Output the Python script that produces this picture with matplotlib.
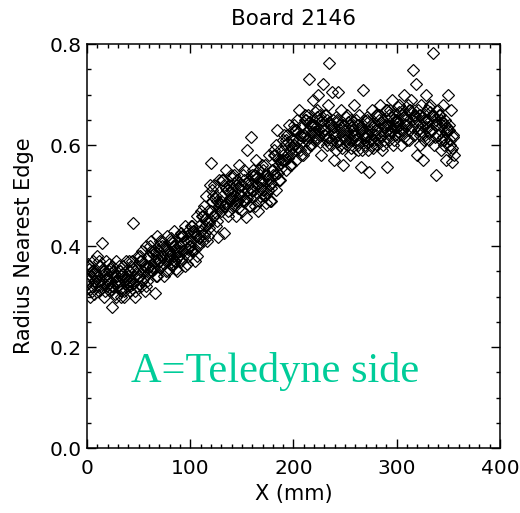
import matplotlib
matplotlib.use("Agg")
import matplotlib.pyplot as plt
from matplotlib.ticker import MultipleLocator

# Board 2146 scan: position along board (mm) vs radius to nearest edge
# values, one row per 10 mm bin
x_mm = [
	0.5, 1.5, 2.8, 3.6, 4.9, 5.5, 6.7, 7.4, 8.6, 9.8,
	10.4, 11.2, 12.6, 13.1, 14.5, 15.3, 16.2, 17.5, 18.4, 19.6,
	20.3, 21.5, 22.4, 23.8, 24.2, 25.6, 26.3, 27.7, 28.5, 29.4,
	30.2, 31.6, 32.5, 33.4, 34.8, 35.5, 36.9, 37.3, 38.6, 39.5,
	40.4, 41.3, 42.7, 43.5, 44.6, 45.2, 46.8, 47.4, 48.3, 49.6,
	50.5, 51.4, 52.3, 53.7, 54.2, 55.8, 56.5, 57.3, 58.6, 59.4,
	60.3, 61.7, 62.4, 63.5, 64.6, 65.9, 66.3, 67.5, 68.2, 69.7,
	70.2, 71.5, 72.8, 73.4, 74.6, 75.3, 76.7, 77.4, 78.5, 79.6,
	80.4, 81.6, 82.3, 83.5, 84.7, 85.2, 86.6, 87.4, 88.8, 89.5,
	90.3, 91.5, 92.6, 93.2, 94.7, 95.4, 96.5, 97.6, 98.3, 99.5,
	100.4, 101.5, 102.7, 103.3, 104.6, 105.5, 106.8, 107.3, 108.5, 109.6,
	110.2, 111.6, 112.4, 113.7, 114.3, 115.5, 116.8, 117.4, 118.6, 119.3,
	120.5, 121.3, 122.6, 123.4, 124.7, 125.2, 126.5, 127.8, 128.3, 129.6,
	130.3, 131.5, 132.4, 133.6, 134.2, 135.7, 136.4, 137.5, 138.6, 139.3,
	140.4, 141.6, 142.3, 143.5, 144.7, 145.4, 146.6, 147.3, 148.5, 149.7,
	150.2, 151.5, 152.4, 153.6, 154.8, 155.3, 156.5, 157.7, 158.4, 159.5,
	160.3, 161.6, 162.5, 163.4, 164.7, 165.5, 166.3, 167.6, 168.4, 169.7,
	170.4, 171.3, 172.6, 173.5, 174.2, 175.7, 176.4, 177.5, 178.6, 179.4,
	180.2, 181.5, 182.7, 183.4, 184.5, 185.3, 186.6, 187.4, 188.7, 189.5,
	190.3, 191.4, 192.6, 193.5, 194.2, 195.6, 196.3, 197.5, 198.4, 199.6,
	200.5, 201.3, 202.6, 203.4, 204.7, 205.5, 206.2, 207.6, 208.3, 209.5,
	210.4, 211.6, 212.3, 213.7, 214.2, 215.5, 216.6, 217.3, 218.5, 219.4,
	220.3, 221.5, 222.4, 223.6, 224.3, 225.7, 226.5, 227.4, 228.6, 229.5,
	230.2, 231.4, 232.6, 233.5, 234.7, 235.3, 236.6, 237.4, 238.5, 239.6,
	240.3, 241.6, 242.5, 243.4, 244.7, 245.5, 246.3, 247.6, 248.4, 249.5,
	250.4, 251.5, 252.3, 253.6, 254.4, 255.7, 256.5, 257.3, 258.6, 259.4,
	260.3, 261.6, 262.4, 263.5, 264.7, 265.3, 266.6, 267.4, 268.5, 269.7,
	270.2, 271.5, 272.6, 273.4, 274.5, 275.6, 276.3, 277.5, 278.4, 279.6,
	280.4, 281.3, 282.6, 283.5, 284.2, 285.7, 286.4, 287.6, 288.5, 289.3,
	290.5, 291.3, 292.6, 293.4, 294.7, 295.5, 296.3, 297.6, 298.4, 299.5,
	300.3, 301.5, 302.6, 303.4, 304.5, 305.7, 306.4, 307.3, 308.6, 309.5,
	310.4, 311.6, 312.3, 313.5, 314.6, 315.4, 316.3, 317.5, 318.7, 319.5,
	320.3, 321.5, 322.4, 323.6, 324.5, 325.3, 326.7, 327.4, 328.5, 329.6,
	330.5, 331.3, 332.6, 333.4, 334.7, 335.5, 336.4, 337.6, 338.5, 339.7,
	340.3, 341.6, 342.4, 343.5, 344.7, 345.3, 346.6, 347.4, 348.5, 349.6,
	350.4, 351.5, 352.3, 353.6, 354.5, 355.2,
]
radius = [
	.33, .36, .30, .34, .31, .37, .33, .35, .32, .38,
	.34, .31, .36, .33, .405, .35, .30, .34, .37, .32,
	.33, .35, .31, .28, .36, .32, .34, .30, .37, .33,
	.32, .35, .30, .34, .36, .31, .33, .37, .32, .34,
	.35, .31, .33, .37, .445, .34, .30, .36, .32, .38,
	.34, .37, .32, .39, .35, .31, .36, .40, .33, .38,
	.38, .35, .41, .36, .39, .307, .37, .42, .34, .40,
	.39, .36, .41, .38, .34, .40, .37, .42, .35, .39,
	.38, .41, .36, .40, .43, .37, .39, .35, .42, .38,
	.40, .37, .42, .39, .44, .36, .41, .38, .43, .40,
	.41, .44, .39, .43, .37, .42, .46, .40, .44, .42,
	.43, .46, .41, .48, .44, .50, .42, .47, .45, .52,
	.564, .49, .46, .52, .44, .50, .418, .48, .53, .47,
	.50, .53, .426, .48, .55, .51, .46, .52, .49, .54,
	.51, .48, .54, .50, .46, .53, .49, .56, .52, .47,
	.52, .49, .55, .457, .59, .51, .53, .48, .615, .54,
	.51, .54, .48, .57, .52, .47, .55, .50, .53, .56,
	.53, .50, .56, .485, .54, .51, .58, .52, .49, .55,
	.54, .58, .51, .60, .63, .56, .53, .59, .57, .61,
	.57, .60, .55, .62, .58, .64, .59, .56, .61, .63,
	.60, .63, .57, .65, .61, .669, .59, .62, .64, .58,
	.62, .65, .59, .66, .63, .73, .60, .64, .69, .61,
	.64, .61, .67, .70, .63, .66, .58, .65, .72, .62,
	.63, .66, .60, .68, .762, .64, .61, .705, .65, .57,
	.62, .59, .65, .705, .63, .60, .67, .56, .64, .61,
	.63, .60, .66, .62, .58, .65, .61, .64, .68, .62,
	.61, .64, .59, .66, .63, .556, .62, .709, .65, .60,
	.62, .65, .59, .546, .63, .67, .60, .64, .61, .66,
	.63, .60, .66, .62, .68, .59, .65, .61, .64, .67,
	.556, .64, .61, .67, .63, .69, .60, .66, .62, .65,
	.65, .62, .68, .64, .60, .67, .63, .70, .66, .61,
	.64, .67, .61, .69, .65, .748, .62, .66, .72, .58,
	.63, .66, .60, .68, .64, .57, .65, .62, .70, .67,
	.65, .61, .68, .63, .66, .782, .60, .64, .54, .67,
	.62, .66, .59, .64, .68, .61, .65, .57, .63, .70,
	.64, .60, .67, .566, .62, .58,
]
# the dense core of the band, same bins (two passes)
x_core = [
	1.1, 3.2, 5.1, 7.0, 9.1,
	11.8, 13.9, 15.8, 17.1, 19.0,
	20.9, 22.9, 24.9, 26.9, 28.9,
	30.9, 32.9, 34.1, 36.2, 38.1,
	40.9, 42.1, 44.1, 46.1, 48.9,
	50.9, 52.9, 54.9, 56.9, 58.1,
	60.9, 62.9, 64.1, 66.9, 68.9,
	70.9, 72.1, 74.1, 76.1, 78.1,
	80.9, 82.9, 84.1, 86.1, 88.1,
	90.9, 92.1, 94.1, 96.9, 98.9,
	100.9, 102.1, 104.1, 106.1, 108.9,
	110.9, 112.9, 114.9, 116.1, 118.1,
	120.9, 122.1, 124.1, 126.1, 128.9,
	130.9, 132.9, 134.9, 136.9, 138.1,
	140.9, 142.9, 144.1, 146.1, 148.9,
	150.9, 152.9, 154.1, 156.9, 158.9,
	160.9, 162.1, 164.1, 166.9, 168.9,
	170.9, 172.1, 174.9, 176.9, 178.1,
	180.9, 182.1, 184.9, 186.1, 188.1,
	190.9, 192.1, 194.9, 196.9, 198.9,
	200.9, 202.1, 204.1, 206.9, 208.9,
	210.9, 212.9, 214.9, 216.1, 218.9,
	220.9, 222.9, 224.9, 226.1, 228.1,
	230.9, 232.1, 234.1, 236.1, 238.9,
	240.9, 242.1, 244.1, 246.9, 248.9,
	250.9, 252.9, 254.9, 256.1, 258.1,
	260.9, 262.9, 264.1, 266.1, 268.9,
	270.9, 272.1, 274.9, 276.9, 278.9,
	280.9, 282.1, 284.9, 286.9, 288.9,
	290.9, 292.1, 294.1, 296.9, 298.9,
	300.9, 302.1, 304.9, 306.9, 308.1,
	310.9, 312.9, 314.1, 316.9, 318.1,
	320.9, 322.9, 324.1, 326.1, 328.1,
	330.9, 332.1, 334.1, 336.9, 338.1,
	340.9, 342.9, 344.1, 346.1, 348.9,
	350.9, 352.9, 354.9,
]
radius_core = [
	.365, .315, .35, .305, .34,
	.37, .32, .355, .31, .345,
	.365, .315, .35, .305, .34,
	.36, .31, .345, .30, .335,
	.37, .32, .355, .31, .345,
	.38, .33, .365, .32, .355,
	.40, .35, .385, .34, .375,
	.41, .36, .395, .35, .385,
	.415, .365, .40, .355, .39,
	.425, .375, .41, .365, .40,
	.44, .39, .425, .38, .415,
	.47, .42, .455, .41, .445,
	.51, .46, .495, .45, .485,
	.53, .48, .515, .47, .505,
	.535, .485, .52, .475, .51,
	.54, .49, .525, .48, .515,
	.55, .50, .535, .49, .525,
	.55, .50, .535, .49, .525,
	.59, .54, .575, .53, .565,
	.62, .57, .605, .56, .595,
	.64, .59, .625, .58, .615,
	.66, .61, .645, .60, .635,
	.665, .615, .65, .605, .64,
	.66, .61, .645, .60, .635,
	.655, .605, .64, .595, .63,
	.655, .605, .64, .595, .63,
	.65, .60, .635, .59, .625,
	.655, .605, .64, .595, .63,
	.66, .61, .645, .60, .635,
	.67, .62, .655, .61, .645,
	.675, .625, .66, .615, .65,
	.68, .63, .665, .62, .655,
	.67, .62, .655, .61, .645,
	.675, .625, .66, .615, .65,
	.66, .61, .645, .60, .635,
	.63, .59, .615,
]
x_fill = [
	0.2, 2.4, 4.6, 6.4, 8.2,
	10.2, 12.4, 14.6, 16.4, 18.2,
	20.2, 22.4, 24.6, 26.4, 28.2,
	30.2, 32.4, 34.6, 36.4, 38.2,
	40.2, 42.4, 44.6, 46.4, 48.2,
	50.2, 52.4, 54.6, 56.4, 58.2,
	60.2, 62.4, 64.6, 66.4, 68.2,
	70.2, 72.4, 74.6, 76.4, 78.2,
	80.2, 82.4, 84.6, 86.4, 88.2,
	90.2, 92.4, 94.6, 96.4, 98.2,
	100.2, 102.4, 104.6, 106.4, 108.2,
	110.2, 112.4, 114.6, 116.4, 118.2,
	120.2, 122.4, 124.6, 126.4, 128.2,
	130.2, 132.4, 134.6, 136.4, 138.2,
	140.2, 142.4, 144.6, 146.4, 148.2,
	150.2, 152.4, 154.6, 156.4, 158.2,
	160.2, 162.4, 164.6, 166.4, 168.2,
	170.2, 172.4, 174.6, 176.4, 178.2,
	180.2, 182.4, 184.6, 186.4, 188.2,
	190.2, 192.4, 194.6, 196.4, 198.2,
	200.2, 202.4, 204.6, 206.4, 208.2,
	210.2, 212.4, 214.6, 216.4, 218.2,
	220.2, 222.4, 224.6, 226.4, 228.2,
	230.2, 232.4, 234.6, 236.4, 238.2,
	240.2, 242.4, 244.6, 246.4, 248.2,
	250.2, 252.4, 254.6, 256.4, 258.2,
	260.2, 262.4, 264.6, 266.4, 268.2,
	270.2, 272.4, 274.6, 276.4, 278.2,
	280.2, 282.4, 284.6, 286.4, 288.2,
	290.2, 292.4, 294.6, 296.4, 298.2,
	300.2, 302.4, 304.6, 306.4, 308.2,
	310.2, 312.4, 314.6, 316.4, 318.2,
	320.2, 322.4, 324.6, 326.4, 328.2,
	330.2, 332.4, 334.6, 336.4, 338.2,
	340.2, 342.4, 344.6, 346.4, 348.2,
	351.7, 353.8,
]
radius_fill = [
	.325, .355, .32, .345, .33,
	.33, .36, .325, .35, .335,
	.325, .355, .32, .345, .33,
	.32, .35, .315, .34, .325,
	.33, .36, .325, .35, .335,
	.34, .37, .335, .36, .345,
	.36, .39, .355, .38, .365,
	.37, .40, .365, .39, .375,
	.375, .405, .37, .395, .38,
	.39, .42, .385, .41, .395,
	.40, .43, .395, .42, .405,
	.43, .46, .425, .45, .435,
	.47, .50, .465, .49, .475,
	.49, .52, .485, .51, .495,
	.495, .525, .49, .515, .50,
	.50, .53, .495, .52, .505,
	.51, .54, .505, .53, .515,
	.51, .54, .505, .53, .515,
	.55, .58, .545, .57, .555,
	.58, .61, .575, .60, .585,
	.60, .63, .595, .62, .605,
	.62, .65, .615, .64, .625,
	.625, .655, .62, .645, .63,
	.62, .65, .615, .64, .625,
	.615, .645, .61, .635, .62,
	.615, .645, .61, .635, .62,
	.61, .64, .605, .63, .615,
	.615, .645, .61, .635, .62,
	.62, .65, .615, .64, .625,
	.63, .66, .625, .65, .635,
	.635, .665, .63, .655, .64,
	.64, .67, .635, .66, .645,
	.63, .66, .625, .65, .635,
	.635, .665, .63, .655, .64,
	.62, .65, .615, .64, .625,
	.61, .595,
]

fig = plt.figure(figsize=(5.2, 5.13), dpi=100)
ax = fig.add_axes([0.1673, 0.1267, 0.7942, 0.7875])
for xs, ys in [(x_mm, radius), (x_core, radius_core), (x_fill, radius_fill)]:
	ax.plot(xs, ys, ls="none", marker="D", ms=6, mfc="none", mec="black", mew=0.85)

ax.set_xlim(0, 400)
ax.set_ylim(0, 0.8)
ax.xaxis.set_major_locator(MultipleLocator(100))
ax.xaxis.set_minor_locator(MultipleLocator(10))
ax.yaxis.set_major_locator(MultipleLocator(0.2))
ax.yaxis.set_minor_locator(MultipleLocator(0.05))
ax.yaxis.set_major_formatter(lambda v, p: "%.1f" % v)
ax.tick_params(which="both", direction="in", top=True, right=True, width=1, labelsize=14.5)
ax.tick_params(which="major", length=6.5)
ax.tick_params(which="minor", length=3)
ax.tick_params(axis="x", pad=8)
ax.tick_params(axis="y", pad=4)
for s in ax.spines.values(): s.set_linewidth(1.1)

ax.set_title("Board 2146", fontsize=15.5, pad=14)
ax.set_xlabel("X (mm)", fontsize=15, labelpad=4)
ax.set_ylabel("Radius Nearest Edge", fontsize=15, labelpad=11)
# annotation sits inside the axes, in data units
ax.text(42.6, 0.131, "A=Teledyne side", family="Liberation Serif", fontsize=30.5, color="#00CC99")

fig.savefig("out.png", dpi=100)
